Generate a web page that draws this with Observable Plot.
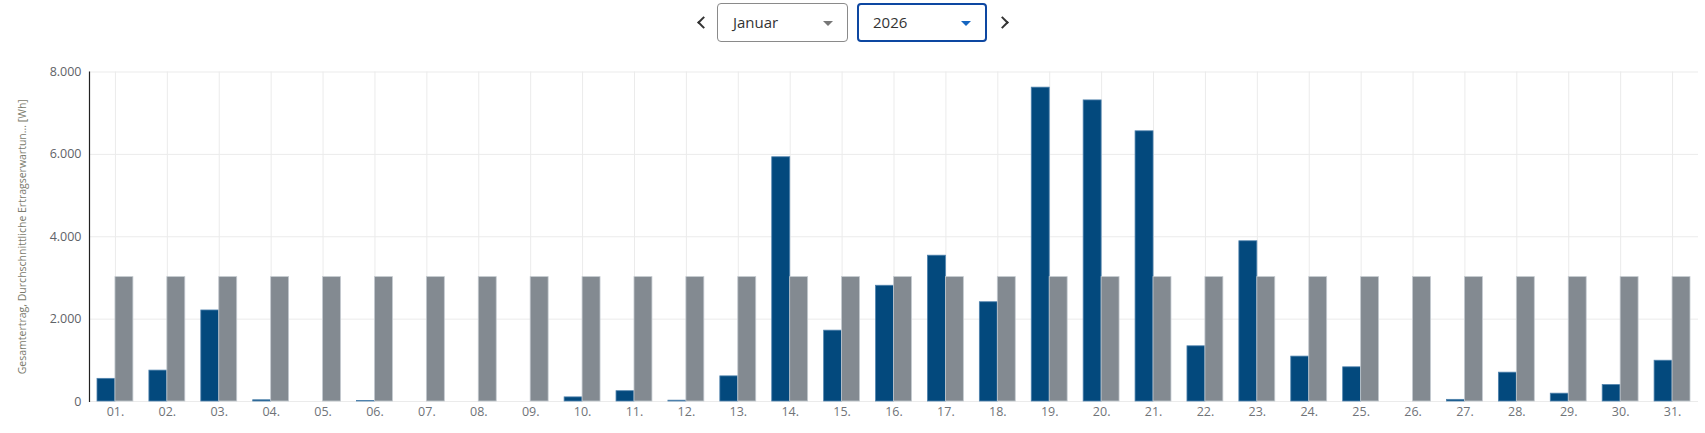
<!DOCTYPE html>
<html>
<head>
<meta charset="utf-8">
<script src="https://cdn.jsdelivr.net/npm/d3@7"></script>
<script src="https://cdn.jsdelivr.net/npm/@observablehq/plot@0.6"></script>
<style>
  html, body { margin: 0; padding: 0; background: #fff; width: 1705px; height: 433px; overflow: hidden; font-family: "Open Sans", Roboto, sans-serif; }
  #controls { position: absolute; left: 0; top: 0; width: 1705px; height: 45px; }
  .chev { position: absolute; top: 18px; width: 7px; height: 7px; border-left: 2.2px solid #333; border-bottom: 2.2px solid #333; }
  .sel { position: absolute; top: 3px; height: 39px; box-sizing: border-box; border-radius: 4px; background: #fff; }
  .sel span.t { position: absolute; left: 15px; top: 8px; font-size: 15px; color: #333; }
  .sel span.a { position: absolute; top: 17px; width: 0; height: 0; border-left: 5px solid transparent; border-right: 5px solid transparent; }
  #chart { position: absolute; left: 0; top: 45px; }
</style>
</head>
<body>
<div id="controls">
  <div class="chev" style="left:699px; transform: rotate(45deg);"></div>
  <div class="sel" style="left:717px; width:131px; border:1px solid #8a8a8a;">
    <span class="t" id="monthLabel"></span>
    <span class="a" style="left:105px; border-top:5px solid #777;"></span>
  </div>
  <div class="sel" style="left:857px; width:130px; border:2px solid #0d47a1;">
    <span class="t" id="yearLabel" style="left:14px; top:7px;"></span>
    <span class="a" style="left:102px; top:16px; border-top:5px solid #1565c0;"></span>
  </div>
  <div class="chev" style="left:998px; transform: rotate(-135deg);"></div>
</div>
<div id="chart"></div>
<script>
const month = "Januar";
const year = "2026";
const days = ["01.","02.","03.","04.","05.","06.","07.","08.","09.","10.","11.","12.","13.","14.","15.","16.","17.","18.","19.","20.","21.","22.","23.","24.","25.","26.","27.","28.","29.","30.","31."];
const gesamtertrag = [550,750,2210,30,0,10,0,0,0,100,250,20,610,5930,1720,2810,3540,2410,7620,7310,6560,1340,3890,1090,830,0,40,700,190,400,990];
const erwartung = [3020,3020,3020,3020,3020,3020,3020,3020,3020,3020,3020,3020,3020,3020,3020,3020,3020,3020,3020,3020,3020,3020,3020,3020,3020,3020,3020,3020,3020,3020,3020];
const yTicks = [0,2000,4000,6000,8000];
const yLabel = "Gesamtertrag, Durchschnittliche Ertragserwartun... [Wh]";

document.getElementById("monthLabel").textContent = month;
document.getElementById("yearLabel").textContent = year;

const rows = days.map((day, i) => ({day, gesamt: gesamtertrag[i], erwartung: erwartung[i]}));
const fmt = d => d3.format(",")(d).replace(/,/g, ".");

const chart = Plot.plot({
  width: 1705,
  height: 388,
  marginLeft: 89,
  marginRight: 7,
  marginTop: 26.5,
  marginBottom: 32,
  style: {fontFamily: "'Open Sans', sans-serif", fontSize: "12px", background: "transparent"},
  x: {domain: days, paddingInner: 0, paddingOuter: 0, round: false},
  y: {domain: [0, 8000]},
  marks: [
    Plot.gridY(yTicks, {stroke: "#ebebeb", strokeOpacity: 1}),
    Plot.gridX(days, {stroke: "#ebebeb", strokeOpacity: 1}),
    Plot.barY(rows, {x: "day", y: "gesamt", fill: "#03497d", stroke: "#4f82ad", strokeWidth: 0.8, insetLeft: 8, insetRight: 25.95}),
    Plot.barY(rows, {x: "day", y: "erwartung", fill: "#838a91", stroke: "#c4cad0", strokeWidth: 0.8, insetLeft: 25.95, insetRight: 8}),
    Plot.axisY(yTicks, {tickFormat: fmt, tickSize: 0, tickPadding: 8, label: null, fill: "#5f6368", fontSize: 12.5}),
    Plot.axisX(days, {tickSize: 0, tickPadding: 6, label: null, fill: "#6f7378", fontSize: 12.5}),
    Plot.frame({anchor: "left", stroke: "#222", strokeWidth: 1.2}),
    Plot.text([yLabel], {frameAnchor: "left", rotate: -90, dx: -67, textAnchor: "middle", lineWidth: 100, fontSize: 10.5, fill: "#7a7a6c"})
  ]
});
document.getElementById("chart").appendChild(chart);
</script>
</body>
</html>
